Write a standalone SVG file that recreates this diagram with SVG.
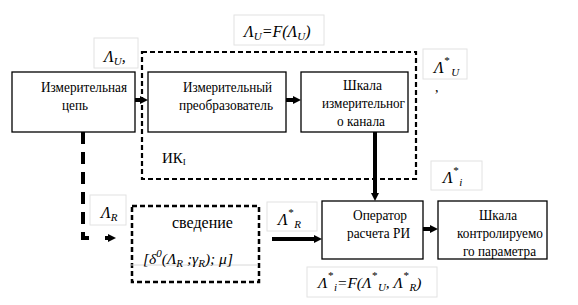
<svg xmlns="http://www.w3.org/2000/svg" width="578" height="305" viewBox="0 0 578 305">
<style>
  .box{fill:#fff;stroke:#000;stroke-width:1.3}
  .dbox{fill:none;stroke:#000;stroke-width:2.2;stroke-dasharray:5 3}
  .lbl{fill:#fff;stroke:#e2e2e2;stroke-width:1}
  text{font-family:'Liberation Serif','Liberation Sans',sans-serif;fill:#000}
  .t{font-size:14px}
  .f{font-size:16px;font-style:italic}
  .s{font-size:11px}
  .a{stroke:#000;stroke-width:4;fill:none}
</style>
<defs>
  <marker id="ah" viewBox="0 0 8 8" refX="0" refY="4" markerWidth="8" markerHeight="8" markerUnits="userSpaceOnUse" orient="auto">
    <path d="M0,0 L8,4 L0,8 z" fill="#000"/>
  </marker>
</defs>

<g id="labels">
  <rect class="lbl" x="94" y="38" width="44" height="30"/>
  <text class="f" x="104" y="62">Λ<tspan class="s" dy="3">U</tspan><tspan dy="-3">,</tspan></text>
  <rect class="lbl" x="234" y="15" width="90" height="30"/>
  <text class="f" x="244" y="37">Λ<tspan class="s" dy="3">U</tspan><tspan dy="-3">=F(Λ</tspan><tspan class="s" dy="3">U</tspan><tspan dy="-3">)</tspan></text>
  <rect class="lbl" x="423" y="49" width="44" height="30"/>
  <text class="f" x="434" y="73">Λ<tspan class="s" dy="-9">*</tspan><tspan class="s" dx="2" dy="12">U</tspan></text>
  <text class="t" x="435" y="92">,</text>
  <rect class="lbl" x="90" y="195" width="36" height="30"/>
  <text class="f" x="101" y="218">Λ<tspan class="s" dy="3">R</tspan></text>
  <rect class="lbl" x="267" y="202" width="50" height="29"/>
  <text class="f" x="278" y="225">Λ<tspan class="s" dy="-9">*</tspan><tspan class="s" dx="1" dy="12">R</tspan></text>
  <rect class="lbl" x="431" y="161" width="51" height="29"/>
  <text class="f" x="443" y="183">Λ<tspan class="s" dy="-9">*</tspan><tspan class="s" dx="1" dy="12">i</tspan></text>
  <rect class="lbl" x="307" y="267" width="130" height="30"/>
  <text class="f" x="318" y="288" style="font-size:15.5px">Λ<tspan class="s" dy="-9">*</tspan><tspan class="s" dx="1" dy="12">i</tspan><tspan dy="-3">=F(Λ</tspan><tspan class="s" dy="-9">*</tspan><tspan class="s" dx="1" dy="12">U</tspan><tspan dy="-3">, Λ</tspan><tspan class="s" dy="-9">*</tspan><tspan class="s" dx="1" dy="12">R</tspan><tspan dy="-3">)</tspan></text>
</g>

<g id="ik">
  <rect class="dbox" x="142" y="52" width="274" height="127"/>
  <text class="t" x="162" y="163" style="font-size:15px">ИК<tspan style="font-size:9px" dy="2">I</tspan></text>
</g>

<g id="node-circuit">
  <rect class="box" x="12" y="72" width="123" height="60"/>
  <text class="t" x="41" y="92" textLength="86" lengthAdjust="spacingAndGlyphs">Измерительная</text>
  <text class="t" x="62" y="110" textLength="26" lengthAdjust="spacingAndGlyphs">цепь</text>
</g>
<g id="node-converter">
  <rect class="box" x="148" y="72" width="138" height="60"/>
  <text class="t" x="183" y="92" textLength="89" lengthAdjust="spacingAndGlyphs">Измерительный</text>
  <text class="t" x="179" y="110" textLength="94" lengthAdjust="spacingAndGlyphs">преобразователь</text>
</g>
<g id="node-scale-channel">
  <rect class="box" x="301" y="72" width="107" height="60"/>
  <text class="t" x="343" y="90" textLength="39" lengthAdjust="spacingAndGlyphs">Шкала</text>
  <text class="t" x="322" y="108" textLength="83" lengthAdjust="spacingAndGlyphs">измерительног</text>
  <text class="t" x="337" y="126" textLength="48" lengthAdjust="spacingAndGlyphs">о канала</text>
</g>
<g id="node-reduction">
  <rect class="dbox" x="132" y="206" width="127" height="76" style="stroke-width:2.5"/>
  <line x1="131" y1="265" x2="258" y2="265" stroke="#d8d8d8" stroke-width="1"/>
  <text class="t" x="172" y="228" style="font-size:16px">сведение</text>
  <text class="f" x="143" y="264" style="font-size:15.5px">[δ<tspan class="s" dy="-7">0</tspan><tspan dy="7">(Λ</tspan><tspan class="s" dy="3">R</tspan><tspan dy="-3"> ;γ</tspan><tspan class="s" dy="3">R</tspan><tspan dy="-3">); μ]</tspan></text>
</g>
<g id="node-operator">
  <rect class="box" x="322" y="201" width="101" height="58"/>
  <text class="t" x="353" y="220" textLength="54" lengthAdjust="spacingAndGlyphs">Оператор</text>
  <text class="t" x="347" y="238" textLength="63" lengthAdjust="spacingAndGlyphs">расчета РИ</text>
</g>
<g id="node-scale-param">
  <rect class="box" x="438" y="201" width="109" height="58"/>
  <text class="t" x="479" y="220" textLength="38" lengthAdjust="spacingAndGlyphs">Шкала</text>
  <text class="t" x="457" y="238" textLength="86" lengthAdjust="spacingAndGlyphs">контролируемо</text>
  <text class="t" x="463" y="256" textLength="73" lengthAdjust="spacingAndGlyphs">го параметра</text>
</g>

<g id="connectors">
  <line class="a" x1="135" y1="100" x2="140" y2="100" marker-end="url(#ah)"/>
  <line class="a" x1="286" y1="100" x2="293" y2="100" marker-end="url(#ah)"/>
  <line class="a" x1="375" y1="132" x2="375" y2="193" marker-end="url(#ah)"/>
  <line class="a" x1="272" y1="239" x2="314" y2="239" marker-end="url(#ah)"/>
  <line class="a" x1="423" y1="229" x2="430" y2="229" marker-end="url(#ah)"/>
  <path class="a" d="M83,132 V238 H95" stroke-dasharray="12 8"/>
  <line class="a" x1="105" y1="238" x2="108" y2="238" marker-end="url(#ah)"/>
</g>
</svg>
